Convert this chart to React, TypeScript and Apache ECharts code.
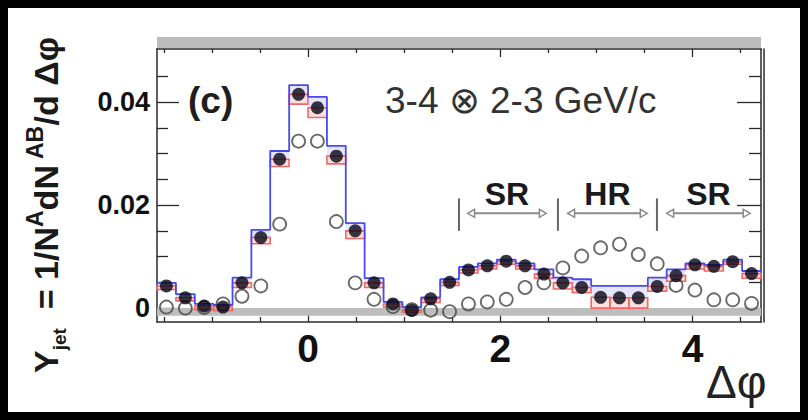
import React, { useEffect, useRef } from "react";
import * as echarts from "echarts";

// Δφ bin centres (bin width π/16)
const binCenters = [-1.473, -1.276, -1.080, -0.884, -0.687, -0.491, -0.295, -0.098, 0.098, 0.295, 0.491, 0.687, 0.884, 1.080, 1.276, 1.473, 1.669, 1.865, 2.062, 2.258, 2.454, 2.651, 2.847, 3.044, 3.240, 3.436, 3.633, 3.829, 4.025, 4.222, 4.418, 4.614];
const binHalfWidth = 0.098;

// filled points (jet yield)
const jetYield = [0.0043, 0.0020, 0.0004, 0.0002, 0.0049, 0.0137, 0.0289, 0.0415, 0.0389, 0.0295, 0.0150, 0.0049, 0.0008, -0.0004, 0.0018, 0.0050, 0.0074, 0.0082, 0.0091, 0.0082, 0.0066, 0.0049, 0.0040, 0.0021, 0.0020, 0.0020, 0.0042, 0.0063, 0.0084, 0.0081, 0.0090, 0.0067];
// open points
const openYield = [0.0002, 0.0000, 0.0001, 0.0008, 0.0023, 0.0043, 0.0163, 0.0324, 0.0324, 0.0168, 0.0049, 0.0017, 0.0003, -0.0003, -0.0004, -0.0007, 0.0008, 0.0012, 0.0017, 0.0040, 0.0049, 0.0078, 0.0101, 0.0117, 0.0124, 0.0104, 0.0086, 0.0044, 0.0035, 0.0016, 0.0016, 0.0009];
// systematic band edges
const blueUpper = [0.0049, 0.0027, 0.0008, 0.0006, 0.0059, 0.0152, 0.0305, 0.0433, 0.0410, 0.0315, 0.0165, 0.0058, 0.0012, 0.0002, 0.0021, 0.0056, 0.0080, 0.0087, 0.0094, 0.0087, 0.0075, 0.0059, 0.0056, 0.0043, 0.0043, 0.0043, 0.0059, 0.0075, 0.0087, 0.0084, 0.0094, 0.0072];
const redLower = [0.0036, 0.0014, -0.0003, -0.0005, 0.0040, 0.0125, 0.0275, 0.0396, 0.0370, 0.0280, 0.0135, 0.0040, 0.0002, -0.0008, 0.0011, 0.0044, 0.0068, 0.0076, 0.0085, 0.0076, 0.0058, 0.0037, 0.0030, 0.0000, 0.0000, 0.0000, 0.0033, 0.0052, 0.0076, 0.0072, 0.0085, 0.0058];

// ticks
const xMajorTicks = [0, 2, 4];
const xMinorTicks = [-1.5, -1, -0.5, 0.5, 1, 1.5, 2.5, 3, 3.5, 4.5];
const yMajorTicks = [0, 0.02, 0.04];
const yMinorTicks = [0.005, 0.01, 0.015, 0.025, 0.03, 0.035, 0.045];

// SR / HR annotation
const regionLabels = ["SR", "HR", "SR"];
const regionBars = [1.571, 2.6, 3.63];
const arrowStarts = [1.66, 2.70, 3.73];
const arrowEnds = [2.48, 3.53, 4.60];
const barRange = [0.015, 0.0213];
const arrowLevel = 0.0184;
const labelLevel = 0.0222;

const X_MIN = -Math.PI / 2;
const X_MAX = (3 * Math.PI) / 2;
const Y_MIN = -0.0027;
const Y_MAX = 0.0503;
const FONT = "'Liberation Sans', Arial, sans-serif";
const AXIS_COLOR = "#2a2a2a";

export default function App() {
  const ref = useRef<HTMLDivElement>(null);
  useEffect(() => {
    document.body.style.background = "#000";
    if (!ref.current) return;
    const chart = echarts.init(ref.current, null, { renderer: "svg" });

    const edges = binCenters.map((c) => c - binHalfWidth).concat([binCenters[binCenters.length - 1] + binHalfWidth]);
    const blueStep = edges.map((e, i) => [e, blueUpper[Math.min(i, blueUpper.length - 1)]]);
    const boxData = binCenters.map((c, i) => [c, redLower[i], jetYield[i], blueUpper[i]]);
    const annData = regionBars.map((b, i) => [b, arrowStarts[i], arrowEnds[i]]);

    const tickStyle = { color: AXIS_COLOR, width: 1.3 };
    const xAxisBase = (position: string, values: number[], len: number, showLine: boolean, labels: boolean) => ({
      type: "value",
      min: X_MIN,
      max: X_MAX,
      position,
      axisLine: { show: showLine, onZero: false, lineStyle: { color: AXIS_COLOR, width: 1.5 } },
      axisTick: { show: true, inside: true, length: len, customValues: values, lineStyle: tickStyle },
      axisLabel: labels
        ? { show: true, customValues: xMajorTicks, fontSize: 39, fontWeight: "bold", fontFamily: FONT, color: "#111", margin: 7 }
        : { show: false },
      splitLine: { show: false },
    });
    const yAxisBase = (position: string, values: number[], len: number, showLine: boolean, labels: boolean, offset = 0) => ({
      type: "value",
      min: Y_MIN,
      max: Y_MAX,
      position,
      offset,
      axisLine: { show: showLine, onZero: false, lineStyle: { color: AXIS_COLOR, width: 1.5 } },
      axisTick: { show: true, inside: true, length: len, customValues: values, lineStyle: tickStyle },
      axisLabel: labels
        ? {
            show: true,
            customValues: yMajorTicks,
            fontSize: 27,
            fontWeight: "bold",
            fontFamily: FONT,
            color: "#111",
            margin: 7,
            formatter: (v: number) => (v === 0 ? "0" : v.toFixed(2)),
          }
        : { show: false },
      splitLine: { show: false },
    });

    const option: any = {
      animation: false,
      backgroundColor: "#fff",
      grid: { left: 149, top: 41, right: 39, bottom: 90, containLabel: false },
      xAxis: [
        xAxisBase("bottom", xMajorTicks, 10, true, true),
        xAxisBase("bottom", xMinorTicks, 5, false, false),
        xAxisBase("top", xMajorTicks, 8, true, false),
        xAxisBase("top", xMinorTicks, 4, false, false),
      ],
      yAxis: [
        yAxisBase("left", yMajorTicks, 22, true, true),
        yAxisBase("left", yMinorTicks, 11, false, false),
        yAxisBase("right", yMajorTicks, 24, true, false),
        yAxisBase("right", yMinorTicks, 12, false, false),
        yAxisBase("right", [], 1, true, false, 3),
      ],
      graphic: [
        { type: "rect", shape: { x: 149, y: 29, width: 604, height: 11 }, style: { fill: "#bcbcbc" }, silent: true },
        {
          type: "text",
          x: 180,
          y: 92,
          style: { text: "(c)", font: `bold 37px ${FONT}`, fill: "#1e1e1e", verticalAlign: "middle" },
        },
        {
          type: "text",
          x: 377,
          y: 92,
          style: { text: "3-4 \u2297 2-3 GeV/c", font: `37px ${FONT}`, fill: "#333", verticalAlign: "middle" },
        },
        {
          type: "text",
          x: 698,
          y: 374,
          style: { text: "\u0394\u03c6", font: `46px ${FONT}`, fill: "#222", verticalAlign: "middle" },
        },
        {
          type: "text",
          x: 38,
          y: 197,
          rotation: Math.PI / 2,
          style: {
            text: "{b|Y}{sub|jet}{b|  = 1/N}{sup|A}{b|dN}{sup| AB}{b|/d \u0394\u03c6}",
            align: "center",
            verticalAlign: "middle",
            fill: "#1a1a1a",
            rich: {
              b: { font: `bold 34px ${FONT}`, fill: "#1a1a1a", lineHeight: 46, verticalAlign: "middle" },
              sub: { font: `bold 19px ${FONT}`, fill: "#1a1a1a", lineHeight: 46, verticalAlign: "bottom" },
              sup: { font: `bold 23px ${FONT}`, fill: "#1a1a1a", lineHeight: 46, verticalAlign: "top" },
            },
          },
        },
      ],
      series: [
        {
          type: "custom",
          name: "band",
          renderItem: (params: any, api: any) => {
            const c = api.value(0);
            const lo = api.value(1);
            const mid = api.value(2);
            const hi = api.value(3);
            const pLo = api.coord([c - binHalfWidth, lo]);
            const pMid = api.coord([c + binHalfWidth, mid]);
            const pHi = api.coord([c - binHalfWidth, hi]);
            return {
              type: "group",
              children: [
                {
                  type: "rect",
                  shape: { x: pHi[0], y: pHi[1], width: pMid[0] - pHi[0], height: pMid[1] - pHi[1] },
                  style: { fill: "rgba(160,160,255,0.28)", stroke: "none" },
                },
                {
                  type: "rect",
                  shape: { x: pLo[0], y: pMid[1], width: pMid[0] - pLo[0], height: pLo[1] - pMid[1] },
                  style: { fill: "rgba(255,160,160,0.35)", stroke: "#ee6a6a", lineWidth: 1.6 },
                },
              ],
            };
          },
          data: boxData,
          markArea: {
            silent: true,
            itemStyle: { color: "#bdbdbd" },
            data: [[{ coord: [X_MIN, -0.0015] }, { coord: [X_MAX, 0] }]],
          },
          z: 1,
        },
        {
          type: "line",
          name: "blue",
          step: "end",
          data: blueStep,
          showSymbol: false,
          lineStyle: { color: "#4a4aee", width: 1.8 },
          z: 2,
        },
        {
          type: "scatter",
          name: "open",
          data: binCenters.map((c, i) => [c, openYield[i]]),
          symbol: "circle",
          symbolSize: 13,
          itemStyle: { color: "rgba(255,255,255,0)", borderColor: "#444", borderWidth: 1.8 },
          z: 3,
        },
        {
          type: "scatter",
          name: "filled",
          data: binCenters.map((c, i) => [c, jetYield[i]]),
          symbol: "circle",
          symbolSize: 13,
          itemStyle: { color: "#060614" },
          z: 4,
        },
        {
          type: "custom",
          name: "regions",
          data: annData,
          renderItem: (params: any, api: any) => {
            const bar = api.value(0);
            const a0 = api.value(1);
            const a1 = api.value(2);
            const pb0 = api.coord([bar, barRange[0]]);
            const pb1 = api.coord([bar, barRange[1]]);
            const pa0 = api.coord([a0, arrowLevel]);
            const pa1 = api.coord([a1, arrowLevel]);
            const pl = api.coord([(a0 + a1) / 2, labelLevel]);
            const gray = "#8a8a8a";
            const h = 4;
            const w = 7;
            return {
              type: "group",
              children: [
                { type: "line", shape: { x1: pb0[0], y1: pb0[1], x2: pb1[0], y2: pb1[1] }, style: { stroke: "#666", lineWidth: 2 } },
                { type: "line", shape: { x1: pa0[0] + w, y1: pa0[1], x2: pa1[0] - w, y2: pa1[1] }, style: { stroke: gray, lineWidth: 2 } },
                {
                  type: "polygon",
                  shape: { points: [[pa0[0], pa0[1]], [pa0[0] + w, pa0[1] - h], [pa0[0] + w, pa0[1] + h]] },
                  style: { fill: "#fff", stroke: gray, lineWidth: 1.5 },
                },
                {
                  type: "polygon",
                  shape: { points: [[pa1[0], pa1[1]], [pa1[0] - w, pa1[1] - h], [pa1[0] - w, pa1[1] + h]] },
                  style: { fill: "#fff", stroke: gray, lineWidth: 1.5 },
                },
                {
                  type: "text",
                  style: {
                    text: regionLabels[params.dataIndex],
                    x: pl[0],
                    y: pl[1],
                    align: "center",
                    verticalAlign: "middle",
                    font: `bold 32px ${FONT}`,
                    fill: "#1a1a1a",
                  },
                },
              ],
            };
          },
          z: 5,
        },
      ],
    };
    chart.setOption(option);
    return () => chart.dispose();
  }, []);
  return <div ref={ref} style={{ width: 792, height: 404, background: "#fff" }} />;
}
